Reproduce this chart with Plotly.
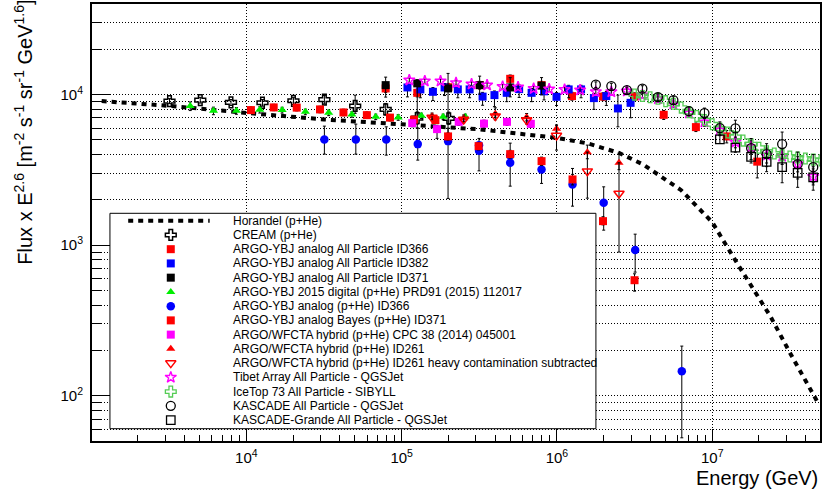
import plotly.graph_objects as go

# ---------------- data ----------------
horandel_E = [1.17e3, 3.16e3, 1.0e4, 3.16e4, 1.0e5, 3.16e5, 1.0e6, 1.58e6, 2.51e6,
              3.59e6, 6.31e6, 1.0e7, 1.45e7, 2.38e7, 3.19e7, 4.73e7]
horandel_F = [9060, 8430, 7560, 6840, 6350, 5880, 5160, 4740, 4100,
              3435, 2318, 1420, 755, 334, 190, 92]

cream_E = [3.2e3, 5.05e3, 7.96e3, 1.27e4, 2.01e4, 3.18e4, 5.02e4, 7.89e4, 1.26e5, 2.01e5]
cream_F = [9060, 9190, 8875, 8830, 9095, 9265, 8410, 7980, 6980, 6950]
cream_hi = [350, 400, 400, 450, 500, 600, 1500, 760, 700, 700]
cream_lo = [350, 400, 400, 450, 500, 600, 900, 670, 600, 600]

id366_E = [7.89e4, 1.26e5, 2.0e5, 3.18e5, 5.0e5, 7.96e5, 1.25e6, 1.98e6, 3.16e6,
           4.87e6, 7.85e6, 1.24e7, 1.95e7]
id366_F = [10990, 10280, 11200, 11565, 12735, 11565, 9775, 9700, 9700,
           7342, 6084, 5277, 3587]
id366_hi = [660, 620, 670, 690, 760, 690, 590, 580, 580, 500, 400, 500, 690]
id366_lo = [660, 620, 670, 690, 760, 690, 590, 580, 580, 500, 400, 500, 790]

id382_E = [1.09e5, 1.32e5, 1.59e5, 1.89e5, 2.30e5, 2.74e5, 3.32e5, 3.96e5, 4.75e5, 5.71e5,
           6.87e5, 8.26e5, 9.94e5, 1.19e6, 1.43e6, 1.73e6, 2.08e6, 2.47e6, 2.98e6]
id382_F = [11160, 10830, 10440, 11160, 10830, 10830, 9700, 9925, 10280, 10880,
           10280, 10520, 9670, 10830, 10830, 9480, 9775, 8095, 8820]
id382_hi = [700, 700, 700, 700, 700, 700, 650, 650, 700, 700,
            700, 700, 650, 700, 700, 700, 700, 1830, 1000]
id382_lo = [1500, 1300, 1300, 1300, 1300, 1300, 1200, 1600, 1300, 1300,
            1300, 1300, 1200, 1300, 1300, 1500, 1300, 1985, 1800]

id371_E = [7.89e4, 1.26e5, 1.99e5, 3.18e5, 5.0e5, 7.96e5]
id371_F = [11565, 11870, 10995, 11565, 11160, 11475]
id371_hi = [1500, 700, 2835, 1700, 1800, 1500]
id371_lo = [1940, 5870, 5995, 1500, 1500, 1500]

dig_E = [4.35e3, 6.14e3, 8.63e3, 1.22e4, 1.70e4, 2.40e4, 3.39e4, 4.78e4, 6.81e4,
         9.5e4, 1.34e5, 1.85e5, 2.57e5]
dig_F = [8387, 7805, 7805, 7925, 7890, 7685, 7570, 7386, 7120, 7055, 7230, 7120, 7120]
dig_err = [550, 450, 400, 380, 350, 330, 320, 310, 300, 300, 300, 300, 300]

phe366_E = [3.18e4, 5.07e4, 7.96e4, 1.27e5, 1.99e5, 3.15e5, 3.15e5, 5.0e5, 5.0e5,
            7.96e5, 1.26e6, 2.0e6, 3.19e6, 6.37e6]
phe366_F = [5038, 5038, 5038, 4690, 4910, 4618, 4233, 3945, 3533, 3184, 2531, 1910, 927, 145.5]
phe366_hi = [1138, 1330, 1072, 1300, 1080, 500, 400, 817, 400, 600, 702, 530, 256, 68]
phe366_lo = [1014, 1014, 1075, 1018, 2867, 400, 1116, 400, 1067, 613, 715, 652, 265, 93]

bayes_E = [1.07e4, 1.50e4, 2.11e4, 2.98e4, 4.22e4, 5.97e4, 8.41e4, 1.20e5, 1.65e5,
           1.99e5, 3.13e5, 5.0e5, 7.96e5, 1.26e6, 1.98e6, 3.16e6]
bayes_F = [7890, 8222, 8196, 7974, 7616, 7307, 7035, 6823, 6771,
           5277, 4549, 4024, 3615, 2733, 1444, 585]
bayes_hi = [400, 400, 400, 400, 380, 370, 350, 340, 340, 300, 260, 240, 230, 220, 100, 60]
bayes_lo = [400, 400, 400, 400, 380, 370, 350, 340, 340, 300, 260, 240, 230, 220, 80, 90]

cpc_E = [1.17e5, 1.69e5, 2.33e5, 3.39e5, 4.77e5, 6.79e5]
cpc_F = [6466, 5900, 6597, 6417, 6597, 6398]
cpc_hi = [350, 350, 350, 350, 350, 350]
cpc_lo = [350, 780, 350, 350, 350, 350]

id261_E = [1.57e5, 2.51e5, 4.01e5, 6.38e5, 9.94e5, 1.57e6, 2.51e6]
id261_F = [7195, 6980, 7476, 7087, 5944, 4149, 3523]
id261_hi = [350, 350, 700, 400, 330, 470, 560]
id261_lo = [350, 350, 400, 400, 300, 400, 350]

id261h_F = [7055, 6843, 7195, 6771, 5341, 3102, 2205]
id261h_hi = [350, 350, 400, 400, 930, 1050, 1320]
id261h_lo = [350, 350, 400, 400, 1060, 1050, 1305]

tibet_E = [1.12e5, 1.41e5, 1.78e5, 2.24e5, 2.82e5, 3.55e5, 4.47e5, 5.62e5, 7.08e5, 8.91e5,
           1.12e6, 1.41e6, 1.78e6, 2.24e6, 2.82e6, 3.55e6, 4.47e6, 5.62e6, 7.08e6, 8.91e6,
           1.12e7, 1.41e7, 1.78e7, 2.24e7, 2.82e7, 3.55e7, 4.47e7]
tibet_F = [12480, 12290, 12290, 11980, 11745, 11565, 11300, 11215, 10960, 10880,
           10795, 10715, 10435, 10435, 10550, 9925, 9363, 8648, 7539, 6568,
           5808, 4834, 4479, 3963, 3885, 3469, 2861]
tibet_err = [400, 400, 400, 400, 400, 400, 400, 400, 400, 400,
             400, 400, 400, 400, 400, 400, 400, 400, 400, 400,
             400, 400, 450, 450, 450, 400, 350]

icetop_E = [3.16e6, 3.55e6, 3.98e6, 4.47e6, 5.01e6, 5.62e6, 6.31e6, 7.08e6, 7.94e6, 8.91e6,
            1.0e7, 1.12e7, 1.26e7, 1.41e7, 1.58e7, 1.78e7, 2.0e7, 2.24e7, 2.51e7, 2.82e7,
            3.16e7, 3.55e7, 3.98e7, 4.47e7, 5.01e7]
icetop_F = [10000, 9800, 9600, 9400, 9050, 8700, 8200, 7650, 7200, 6780,
            6350, 5950, 5600, 5230, 4950, 4680, 4440, 4200, 4060, 3950,
            3880, 3820, 3760, 3700, 3660]

kascade_E = [1.78e6, 2.24e6, 2.82e6, 3.55e6, 4.47e6, 5.62e6, 7.08e6, 8.91e6, 1.12e7, 1.41e7,
             1.78e7, 2.24e7, 2.82e7, 3.55e7, 4.47e7]
kascade_F = [11650, 11390, 10715, 10960, 9625, 9193, 7769, 7539, 5990, 5963,
             4411, 4024, 4690, 3453, 3298]
kascade_err = [500, 500, 500, 500, 500, 500, 500, 600, 600, 800, 700, 700, 950, 700, 700]

grande_E = [1.12e7, 1.41e7, 1.78e7, 2.24e7, 2.82e7, 3.55e7, 4.47e7]
grande_F = [5038, 4445, 3862, 3577, 3298, 3022, 2818]
grande_err = [300, 300, 350, 500, 700, 600, 500]

legend_labels = [
    "Horandel (p+He)",
    "CREAM (p+He)",
    "ARGO-YBJ analog All Particle ID366",
    "ARGO-YBJ analog All Particle ID382",
    "ARGO-YBJ analog All Particle ID371",
    "ARGO-YBJ 2015 digital (p+He) PRD91 (2015) 112017",
    "ARGO-YBJ analog (p+He) ID366",
    "ARGO-YBJ analog Bayes (p+He) ID371",
    "ARGO/WFCTA hybrid (p+He) CPC 38 (2014) 045001",
    "ARGO/WFCTA hybrid (p+He) ID261",
    "ARGO/WFCTA hybrid (p+He) ID261 heavy contamination subtracted",
    "Tibet Array All Particle - QGSJet",
    "IceTop 73 All Particle - SIBYLL",
    "KASCADE All Particle - QGSJet",
    "KASCADE-Grande All Particle - QGSJet",
]

x_tick_exp = [4, 5, 6, 7]
y_tick_exp = [2, 3, 4]

# ---------------- styles ----------------
FONT = "Liberation Sans, Arial, Helvetica, sans-serif"
RED, BLUE, GREEN, MAG, ICE = "#ff0000", "#0000ff", "#00ee00", "#ff00ff", "#55cc55"

# symbol, color, size, line width  (entries 1..14 of the legend)
styles = [
    ("cross-open", "black", 9, 1.5),
    ("square", RED, 8, 0),
    ("square", BLUE, 8, 0),
    ("square", "black", 8, 0),
    ("triangle-up", GREEN, 8, 0),
    ("circle", BLUE, 8.5, 0),
    ("square", RED, 8, 0),
    ("square", MAG, 8, 0),
    ("triangle-up", RED, 8, 0),
    ("triangle-down-open", RED, 9, 1.5),
    ("star-open", MAG, 8.5, 1.4),
    ("cross-open", ICE, 9, 1.3),
    ("circle-open", "black", 9, 1.3),
    ("square-open", "black", 8.5, 1.3),
]

series = [
    (cream_E, cream_F, cream_hi, cream_lo),
    (id366_E, id366_F, id366_hi, id366_lo),
    (id382_E, id382_F, id382_hi, id382_lo),
    (id371_E, id371_F, id371_hi, id371_lo),
    (dig_E, dig_F, dig_err, dig_err),
    (phe366_E, phe366_F, phe366_hi, phe366_lo),
    (bayes_E, bayes_F, bayes_hi, bayes_lo),
    (cpc_E, cpc_F, cpc_hi, cpc_lo),
    (id261_E, id261_F, id261_hi, id261_lo),
    (id261_E, id261h_F, id261h_hi, id261h_lo),
    (tibet_E, tibet_F, tibet_err, tibet_err),
    (icetop_E, icetop_F, None, None),
    (kascade_E, kascade_F, kascade_err, kascade_err),
    (grande_E, grande_F, grande_err, grande_err),
]


def marker_of(st):
    sym, col, size, lw = st
    return dict(symbol=sym, color=col, size=size,
                line=dict(width=lw, color=col))


DASH = "5px,5px"
LW = 4
fig = go.Figure()

fig.add_trace(go.Scatter(x=horandel_E, y=horandel_F, mode="lines",
                         line=dict(color="black", width=LW, dash=DASH),
                         showlegend=False, hoverinfo="skip"))

for st, (E, F, hi, lo) in zip(styles, series):
    err = None
    if hi is not None:
        err = dict(type="data", array=hi, arrayminus=lo, symmetric=False,
                   color="black", thickness=1, width=1.5)
    fig.add_trace(go.Scatter(x=E, y=F, mode="markers", marker=marker_of(st),
                             error_y=err, showlegend=False))

# ---------------- hand-built legend on an overlay axis (plot pixels) ----------------
PW, PH = 730, 437
box_x0, box_x1, box_y0, box_y1 = 18, 505.3, 209.3, 424.7
row0, row_step = 216.7, 14.24
sym_x, txt_x, line_x0, line_x1 = 79, 139.7, 36.3, 118

fig.add_trace(go.Scatter(x=[box_x0, box_x1, box_x1, box_x0, box_x0],
                         y=[box_y0, box_y0, box_y1, box_y1, box_y0],
                         xaxis="x2", yaxis="y2", mode="lines", fill="toself",
                         fillcolor="white", line=dict(color="black", width=1),
                         showlegend=False, hoverinfo="skip"))
fig.add_trace(go.Scatter(x=[line_x0, line_x1], y=[row0, row0], xaxis="x2", yaxis="y2",
                         mode="lines", line=dict(color="black", width=LW, dash=DASH),
                         showlegend=False, hoverinfo="skip"))
for i, st in enumerate(styles, start=1):
    fig.add_trace(go.Scatter(x=[sym_x], y=[row0 + row_step * i], xaxis="x2", yaxis="y2",
                             mode="markers", marker=marker_of(st),
                             showlegend=False, hoverinfo="skip"))

annotations = []
for i, lab in enumerate(legend_labels):
    annotations.append(dict(x=txt_x, y=row0 + row_step * i, xref="x2", yref="y2",
                            text=lab, showarrow=False, xanchor="left", yanchor="middle",
                            font=dict(family=FONT, size=12, color="black")))

annotations.append(dict(x=1.0, y=-0.0847, xref="paper", yref="paper",
                        text="Energy (GeV)", showarrow=False, xanchor="right",
                        yanchor="middle", font=dict(family=FONT, size=20, color="black")))
annotations.append(dict(x=-0.0945, y=0.706, xref="paper", yref="paper",
                        text="Flux x E<sup>2.6</sup> [m<sup>-2</sup> s<sup>-1</sup> sr<sup>-1</sup> GeV<sup>1.6</sup>]",
                        showarrow=False, textangle=-90, xanchor="center", yanchor="middle",
                        font=dict(family=FONT, size=20, color="black")))

x_minor = [m * 10 ** d for d in range(3, 8) for m in range(2, 10)]
y_minor = [m * 10 ** d for d in range(1, 5) for m in range(2, 10)]
GRIDDASH = "1px,2px"

fig.update_layout(
    width=823, height=494,
    margin=dict(l=92, r=1, t=4, b=53),
    paper_bgcolor="white", plot_bgcolor="white",
    font=dict(family=FONT, color="black"),
    showlegend=False,
    hovermode=False,
    annotations=annotations,
    xaxis=dict(type="log", range=[3.006, 7.694],
               tickmode="array", tickvals=[10 ** e for e in x_tick_exp],
               ticktext=[f"10<sup>{e}</sup>" for e in x_tick_exp],
               ticks="inside", ticklen=12, tickwidth=1, tickcolor="black",
               tickfont=dict(size=15, color="black"), ticklabelstandoff=2,
               showgrid=True, gridcolor="black", gridwidth=1, griddash=GRIDDASH,
               showline=True, linecolor="black", linewidth=2, mirror=True, zeroline=False,
               minor=dict(tickmode="array", tickvals=x_minor, ticks="inside", ticklen=6,
                          tickwidth=1, tickcolor="black", showgrid=False)),
    yaxis=dict(type="log", range=[1.699, 4.602],
               tickmode="array", tickvals=[10 ** e for e in y_tick_exp],
               ticktext=[f"10<sup>{e}</sup>" for e in y_tick_exp],
               ticks="inside", ticklen=18, tickwidth=1, tickcolor="black",
               tickfont=dict(size=15, color="black"), ticklabelstandoff=4,
               showgrid=True, gridcolor="black", gridwidth=1, griddash=GRIDDASH,
               showline=True, linecolor="black", linewidth=2, mirror=True, zeroline=False,
               minor=dict(tickmode="array", tickvals=y_minor, ticks="inside", ticklen=9,
                          tickwidth=1, tickcolor="black", showgrid=True,
                          gridcolor="black", gridwidth=1, griddash=GRIDDASH)),
    xaxis2=dict(overlaying="x", anchor="y2", range=[0, PW], visible=False,
                fixedrange=True),
    yaxis2=dict(overlaying="y", anchor="x2", range=[PH, 0], visible=False,
                fixedrange=True),
)

fig.write_html("out.html", config={"displayModeBar": False, "staticPlot": True},
               post_script="document.body.style.margin='0px';document.body.style.padding='0px';")
